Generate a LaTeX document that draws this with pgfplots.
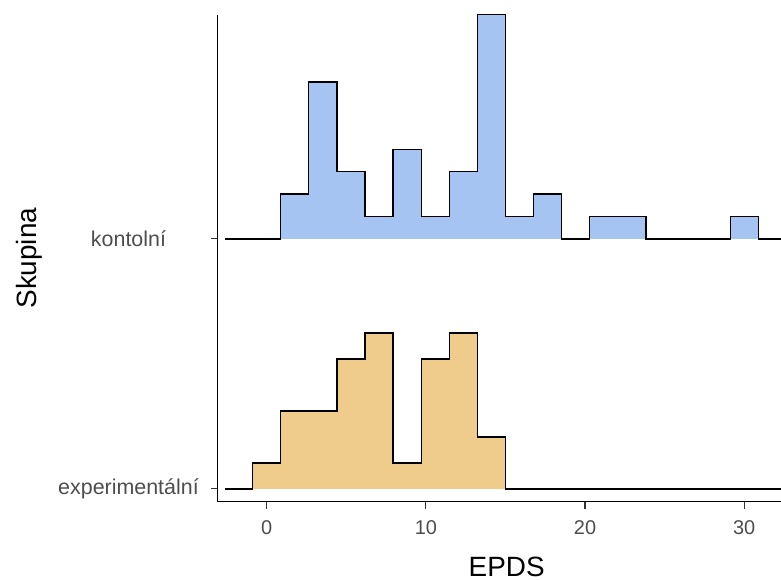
\documentclass[border=0pt]{standalone}
\usepackage{pgfplots}
\pgfplotsset{compat=1.18}
\usepackage{fontspec}
\setmainfont{Liberation Sans}
\definecolor{kfill}{HTML}{A6C4F1}
\definecolor{efill}{HTML}{F0CC8C}
\definecolor{tickgray}{HTML}{4D4D4D}
\definecolor{tickline}{HTML}{333333}
\begin{document}
\begin{tikzpicture}
\begin{axis}[
  scale only axis, width=563.2bp, height=487bp,
  xmin=-3.07, xmax=32.31, ymin=0.949, ymax=2.897,
  axis lines*=left,
  axis line style={black, line width=1.1bp},
  xtick={0,10,20,30}, ytick={1,2},
  yticklabels={experimentální, kontolní},
  tick align=outside, major tick length=7bp,
  tick style={tickline, line width=1.1bp},
  ticklabel style={text=tickgray},
  xticklabel style={font=\fontsize{20}{24}\selectfont, yshift=-8bp},
  yticklabel style={font=\fontsize{21.5}{24}\selectfont, anchor=center, xshift=-82.3bp},
  /pgf/number format/assume math mode=true,
  xlabel={EPDS}, ylabel={Skupina},
  label style={font=\fontsize{28}{32}\selectfont, text=black},
  xlabel style={at={(rel axis cs:0.513,-0.1545)}, anchor=base, inner sep=0pt},
  ylabel style={at={(rel axis cs:-0.3225,0.5)}, anchor=base},
  clip=false,
]
\coordinate (SW) at (rel axis cs:0,0);
\coordinate (NE) at (rel axis cs:1,1);
% kontolni (baseline 2)
\addplot[const plot, fill=kfill, draw=none, mark=none] coordinates {
 (0.882,2) (0.882,2.1794) (2.647,2.6279) (4.412,2.2691) (6.176,2.0897)
 (7.941,2.3588) (9.706,2.0897) (11.471,2.2691) (13.235,2.897) (15.000,2.0897)
 (16.765,2.1794) (18.529,2) (20.294,2.0897) (22.059,2.0897) (23.824,2)
 (29.118,2.0897) (30.882,2)} -- cycle;
\addplot[const plot, black, line width=1.3bp, mark=none] coordinates {
 (-2.647,2) (0.882,2.1794) (2.647,2.6279) (4.412,2.2691) (6.176,2.0897)
 (7.941,2.3588) (9.706,2.0897) (11.471,2.2691) (13.235,2.897) (15.000,2.0897)
 (16.765,2.1794) (18.529,2) (20.294,2.0897) (22.059,2.0897) (23.824,2)
 (29.118,2.0897) (30.882,2) (32.31,2)};
% experimentalni (baseline 1)
\addplot[const plot, fill=efill, draw=none, mark=none] coordinates {
 (-0.882,1) (-0.882,1.104) (0.882,1.312) (2.647,1.312) (4.412,1.520)
 (6.176,1.624) (7.941,1.104) (9.706,1.520) (11.471,1.624) (13.235,1.208)
 (15.000,1)} -- cycle;
\addplot[const plot, black, line width=1.3bp, mark=none] coordinates {
 (-2.647,1) (-0.882,1.104) (0.882,1.312) (2.647,1.312) (4.412,1.520)
 (6.176,1.624) (7.941,1.104) (9.706,1.520) (11.471,1.624) (13.235,1.208)
 (15.000,1) (32.31,1)};
\end{axis}
\pgfresetboundingbox
\path[use as bounding box] ([xshift=-217.8bp, yshift=-78.3bp]SW) rectangle ([yshift=14.7bp]NE);
\end{tikzpicture}
\end{document}
